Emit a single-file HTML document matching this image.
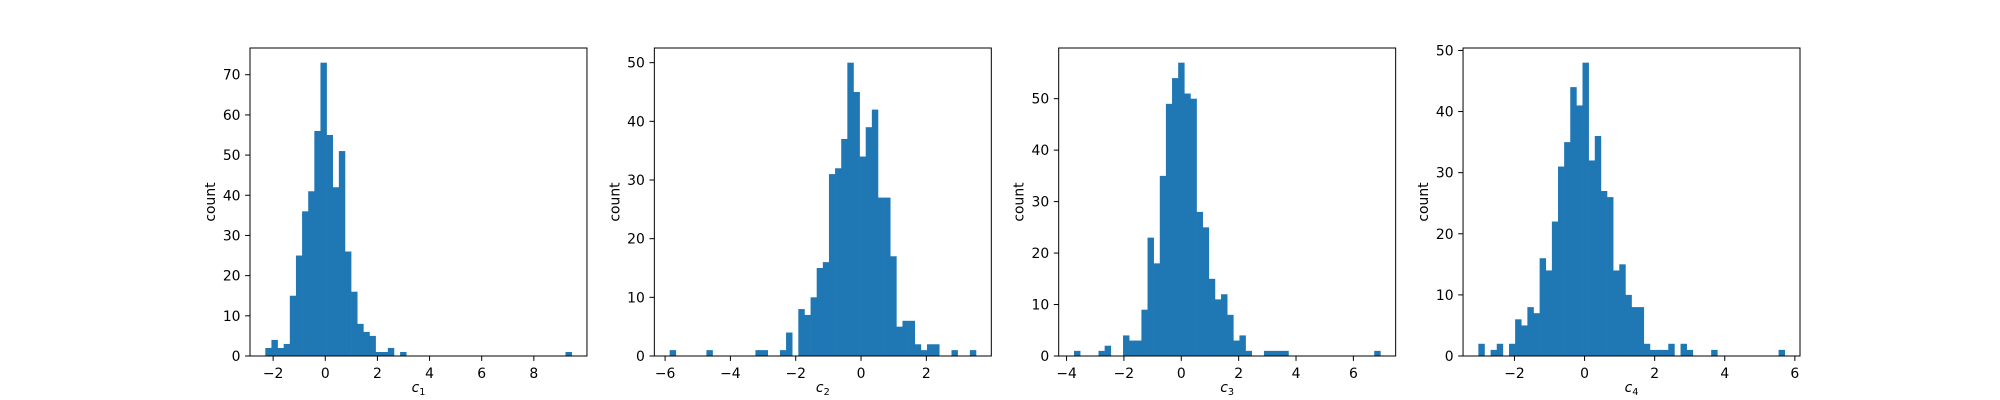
<!DOCTYPE html>
<html><head><meta charset="utf-8"><style>
html,body{margin:0;padding:0;background:#fff;}
svg{display:block;font-family:"DejaVu Sans","Liberation Sans",sans-serif;}
</style></head><body>
<svg id="chart" width="2000" height="400" viewBox="0 0 2000 400" xmlns="http://www.w3.org/2000/svg"></svg>
<script>
// Panel data: 50-bin histograms (counts), data min/max, tick labels
const counts1 = [2,4,2,3,15,25,36,41,56,73,55,42,51,26,16,8,6,5,1,1,2,0,1,0,0,0,0,0,0,0,0,0,0,0,0,0,0,0,0,0,0,0,0,0,0,0,0,0,0,1];
const counts2 = [1,0,0,0,0,0,1,0,0,0,0,0,0,0,1,1,0,0,1,4,0,8,7,10,15,16,31,32,37,50,45,34,39,42,27,27,17,5,6,6,2,1,2,2,0,0,1,0,0,1];
const counts3 = [1,0,0,0,1,2,0,0,4,3,3,9,23,18,35,49,54,57,51,50,28,25,15,11,12,8,3,4,1,0,0,1,1,1,1,0,0,0,0,0,0,0,0,0,0,0,0,0,0,1];
const counts4 = [2,0,1,2,0,2,6,5,8,7,16,14,22,31,35,44,41,48,32,36,27,26,14,15,10,8,8,2,1,1,1,2,0,2,1,0,0,0,1,0,0,0,0,0,0,0,0,0,0,1];
const ranges = [[-2.30,9.45],[-5.86,3.52],[-3.74,6.94],[-3.03,5.71]];
const xticks1 = [-2,0,2,4,6,8];
const xticks2 = [-6,-4,-2,0,2];
const xticks3 = [-4,-2,0,2,4,6];
const xticks4 = [-2,0,2,4,6];
const yticks1 = [0,10,20,30,40,50,60,70];
const yticks2 = [0,10,20,30,40,50];
const yticks3 = [0,10,20,30,40,50];
const yticks4 = [0,10,20,30,40,50];
const labels = ["1","2","3","4"];

const NS = "http://www.w3.org/2000/svg";
const svg = document.getElementById('chart');
function mk(tag, attrs, parent){
  const e = document.createElementNS(NS, tag);
  for (const k in attrs) e.setAttribute(k, attrs[k]);
  (parent||svg).appendChild(e);
  return e;
}
const allCounts=[counts1,counts2,counts3,counts4];
const allX=[xticks1,xticks2,xticks3,xticks4];
const allY=[yticks1,yticks2,yticks3,yticks4];
const W=336.96, gap=67.39, L0=250, T=48, B=356;
for(let p=0;p<4;p++){
  const left=L0+p*(W+gap), right=left+W;
  const g=mk('g',{});
  
  
  const c=allCounts[p], [mn,mx]=ranges[p], n=c.length;
  const pad=(mx-mn)*0.05, x0=mn-pad, x1=mx+pad;
  const ymax=Math.max(...c)*1.05;
  const xs=v=>left+(v-x0)/(x1-x0)*W;
  const ys=v=>B-v/ymax*(B-T);
  const bw=(mx-mn)/n;
  for(let i=0;i<n;i++){
    if(!c[i]) continue;
    const xa=xs(mn+i*bw), xb=xs(mn+(i+1)*bw);
    const r=mk('rect',{x:xa,y:ys(c[i]),width:xb-xa+0.3,height:B-ys(c[i]),fill:'#1f77b4'},g);
    
    
  }
  const f=mk('rect',{x:left,y:T,width:W,height:B-T,fill:'none',stroke:'#000','stroke-width':1},g);
  
  
  allX[p].forEach(t=>{
    const x=xs(t);
    mk('line',{x1:x,x2:x,y1:B,y2:B+4.9,stroke:'#000','stroke-width':1},g);
    const tx=mk('text',{x:x,y:B+22,'font-size':'13.9','text-anchor':'middle',fill:'#000'},g);
    tx.textContent=(t<0?'\u2212'+(-t):String(t));
    
    
  });
  allY[p].forEach(t=>{
    const y=ys(t);
    mk('line',{x1:left-4.9,x2:left,y1:y,y2:y,stroke:'#000','stroke-width':1},g);
    const tx=mk('text',{x:left-9.5,y:y+5,'font-size':'13.9','text-anchor':'end',fill:'#000'},g);
    tx.textContent=String(t);
    
    
  });
  const yl=mk('text',{x:0,y:0,'font-size':'13.9','text-anchor':'middle',fill:'#000',transform:`translate(${left-35},${(T+B)/2}) rotate(-90)`},g);
  yl.textContent='count';
  
  
  const xl=mk('text',{x:(left+right)/2,y:392,'font-size':'13.9','text-anchor':'middle',fill:'#000'},g);
  
  
  const ts1=mk('tspan',{'font-style':'italic'},xl); ts1.textContent='c';
  const ts2=mk('tspan',{'font-size':'9.7',dy:'3'},xl); ts2.textContent=labels[p];
}
</script>
</body></html>
